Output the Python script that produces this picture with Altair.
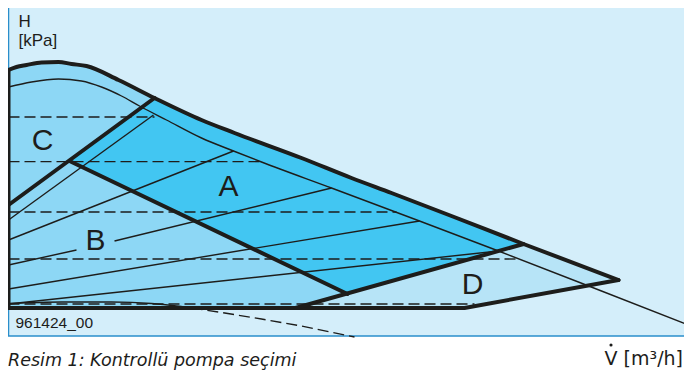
import altair as alt
import pandas as pd

INK = "#1d1d1b"
BG = "#d4eefa"
BORDER = "#2a8ecb"
COL_BC = "#8dd7f5"
COL_A = "#42c6f2"
COL_D = "#b7e4f7"

# Units: flow Q (relative), head H (relative)
# Outer (max speed) characteristic
outer_q = [0, 1.6, 3.6, 6.6, 10, 12.6, 15.6, 22, 29.2, 38.6, 45.2, 58.6, 68.6, 76.6, 88.6, 103, 122]
outer_h = [119, 120.5, 121.5, 122.8, 123, 122, 121, 114, 105, 94, 87.5, 75, 65, 57.5, 46, 32, 14]

# Inner thin characteristic
inner_q = [0, 4.6, 10, 14.6, 18.6, 22.6, 26.2, 31.6, 38.6, 45, 50.6, 64.6, 82.2, 98, 118.6, 137]
inner_h = [110.5, 113, 114.5, 113.5, 110.5, 106, 101, 94, 85, 78.5, 73, 60, 43.5, 28.5, 8.5, -9.5]

# Region vertices
bc_q = outer_q[:13] + [68.6, 0]
bc_h = outer_h[:13] + [0, 0]
a_q = [29.2, 38.6, 45.2, 58.6, 68.6, 76.6, 88.6, 103, 67.8, 12.2]
a_h = [105, 94, 87.5, 75, 65, 57.5, 46, 32, 7, 73.5]
d_q = [57.4, 103, 122, 91.2]
d_h = [0, 32, 14, 0]

# Thick boundary lines
frame_q = [0, 0, 91.2, 122]
frame_h = [119, 0, 0, 14]
cline_q = [0, 29.2]
cline_h = [51.5, 105]
aleft_q = [12.2, 67.8]
aleft_h = [73.5, 7]
abot_q = [57.4, 103]
abot_h = [0, 32]

# Thin speed lines
l1_q, l1_h = [0, 29], [44, 96.5]
l2_q, l2_h = [0, 45], [34, 78.5]
l3a_q, l3a_h = [0, 13.6], [21.5, 29]
l3b_q, l3b_h = [21.2, 64.6], [33.5, 60]
l4_q, l4_h = [0, 82.2], [9.5, 43.5]
l5_q, l5_h = [0, 98], [2, 28.5]
base_q = [0, 10.6, 20.6, 28.6, 33.6, 36.6]
base_h = [2.25, 3, 3, 2.25, 1, 0]

# Dashed lines
dash_levels = [95.5, 73.2, 48, 24.5, 2]
dash_ends = [29.2, 50.6, 77.6, 102, 93.2]
based_q = [36.6, 42, 50.6, 58.6, 69.2]
based_h = [0, -2, -5.5, -9, -14.5]

letters = ["C", "A", "B", "D"]
letters_q = [6.8, 44, 17.4, 92.8]
letters_h = [79, 56, 29, 7]


def path_df(paths):
    rows = []
    for name, (qs, hs) in paths.items():
        for i, (q, h) in enumerate(zip(qs, hs)):
            rows.append({"id": name, "i": i, "q": q, "h": h})
    return pd.DataFrame(rows)


xs = alt.Scale(domain=[-0.1, 135.1], nice=False, zero=False)
ys = alt.Scale(domain=[-31, 150], nice=False, zero=False)
X = alt.X("q:Q", scale=xs, axis=None)
Y = alt.Y("h:Q", scale=ys, axis=None)

bg = alt.Chart(pd.DataFrame({"q0": [0], "q1": [140], "h0": [-14], "h1": [160]})).mark_rect(
    fill=BG, stroke=BORDER, strokeWidth=1.5
).encode(
    x=alt.X("q0:Q", scale=xs, axis=None), x2="q1:Q",
    y=alt.Y("h0:Q", scale=ys, axis=None), y2="h1:Q",
)


def poly(qs, hs, color):
    df = path_df({"p": (qs, hs)})
    return alt.Chart(df).mark_line(fill=color, strokeOpacity=0, strokeWidth=0).encode(
        x=X, y=Y, order="i:Q"
    )


def lines(paths, width, dash=None, cap="butt", interp="linear"):
    df = path_df(paths)
    kw = dict(color=INK, strokeWidth=width, strokeJoin="round", strokeCap=cap, interpolate=interp)
    if dash:
        kw["strokeDash"] = dash
    return alt.Chart(df).mark_line(**kw).encode(
        x=X, y=Y, detail="id:N", order="i:Q"
    )


dashed_paths = {f"d{k}": ([0, e], [lv, lv]) for k, (lv, e) in enumerate(zip(dash_levels, dash_ends))}
dashed_paths["base_d"] = (based_q, based_h)

thin_paths = {
    "l1": (l1_q, l1_h), "l2": (l2_q, l2_h),
    "l3a": (l3a_q, l3a_h), "l3b": (l3b_q, l3b_h),
    "l4": (l4_q, l4_h), "l5": (l5_q, l5_h),
}
thin_curves = {
    "inner": (inner_q, inner_h),
    "base": (base_q, base_h),
}
thick_paths = {
    "frame": (frame_q, frame_h),
    "cline": (cline_q, cline_h),
    "aleft": (aleft_q, aleft_h),
    "abot": (abot_q, abot_h),
}

letters_layer = alt.Chart(pd.DataFrame({"t": letters, "q": letters_q, "h": letters_h})).mark_text(
    font="Liberation Sans", fontSize=30, align="center", baseline="alphabetic", color=INK
).encode(x=X, y=Y, text="t:N")

ytitle = alt.Chart(pd.DataFrame({"t": ["H", "[kPa]"], "q": [2, 2], "h": [140.75, 131]})).mark_text(
    font="Liberation Sans", fontSize=17, align="left", baseline="alphabetic", color=INK
).encode(x=X, y=Y, text="t:N")

code = alt.Chart(pd.DataFrame({"t": ["961424_00"], "q": [1.4], "h": [-10]})).mark_text(
    font="Liberation Sans", fontSize=15.5, align="left", baseline="alphabetic", color=INK
).encode(x=X, y=Y, text="t:N")

caption = alt.Chart(pd.DataFrame({"t": ["Resim 1: Kontrollü pompa seçimi"], "q": [-0.1], "h": [-29]})).mark_text(
    font="DejaVu Sans", fontSize=17.5, fontStyle="italic", align="left", baseline="alphabetic", color=INK
).encode(x=X, y=Y, text="t:N")

xtitle = alt.Chart(pd.DataFrame({"t": ["V [m³/h]"], "q": [134.9], "h": [-28.5]})).mark_text(
    font="DejaVu Sans", fontSize=19, align="right", baseline="alphabetic", color=INK
).encode(x=X, y=Y, text="t:N")

# dot over the V (flow rate symbol)
vdot = alt.Chart(pd.DataFrame({"q": [120.5], "h": [-18.5]})).mark_point(
    filled=True, size=10, color=INK, opacity=1
).encode(x=X, y=Y)

chart = alt.layer(
    bg,
    poly(bc_q, bc_h, COL_BC),
    poly(a_q, a_h, COL_A),
    poly(d_q, d_h, COL_D),
    lines(dashed_paths, 1.4, dash=[11, 5]),
    lines(thin_paths, 1.4),
    lines(thin_curves, 1.4, interp="monotone"),
    lines(thick_paths, 4, cap="round"),
    lines({"outer": (outer_q, outer_h)}, 4, cap="round", interp="monotone"),
    letters_layer, ytitle, code, caption, xtitle, vdot,
).properties(
    width=676, height=362, padding=0, autosize=alt.AutoSizeParams(type="none")
).configure_view(strokeWidth=0)

chart.save("out.html", embed_options={"renderer": "svg", "actions": False})
